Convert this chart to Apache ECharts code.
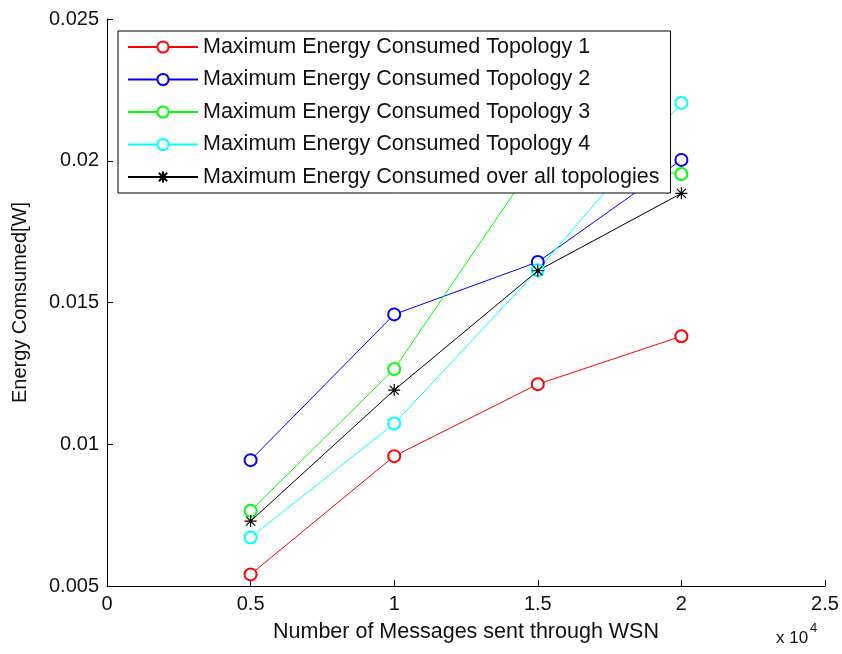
<!DOCTYPE html>
<html>
<head>
<meta charset="utf-8">
<script src="https://cdn.jsdelivr.net/npm/echarts@6/dist/echarts.min.js"></script>
<style>
html,body{margin:0;padding:0;background:#fff;}
#chart{width:842px;height:654px;}
</style>
</head>
<body>
<div id="chart"></div>
<script>
// ---- data ----
var messages = [5000, 10000, 15000, 20000];
var topology1 = [0.00541, 0.00958, 0.01212, 0.01381];
var topology2 = [0.00944, 0.01458, 0.01643, 0.02003];
var topology3 = [0.00765, 0.01265, 0.02010, 0.01953];
var topology4 = [0.00671, 0.01073, 0.01614, 0.02204];
var overall   = [0.00729, 0.01191, 0.01612, 0.01885];
var seriesNames = [
  'Maximum Energy Consumed Topology 1',
  'Maximum Energy Consumed Topology 2',
  'Maximum Energy Consumed Topology 3',
  'Maximum Energy Consumed Topology 4',
  'Maximum Energy Consumed over all topologies'
];
var xTickLabels = ['0', '0.5', '1', '1.5', '2', '2.5'];
var yTickLabels = ['0.005', '0.01', '0.015', '0.02', '0.025'];
var xAxisTitle = 'Number of Messages sent through WSN';
var yAxisTitle = 'Energy Comsumed[W]';

var FONT = 'Liberation Sans, Arial, sans-serif';
var colors = ['#ff0000', '#0000ff', '#00ff00', '#00ffff', '#000000'];
var asterisk = 'path://M0,-6L0,6M-6,0L6,0M-4.5,-4.5L4.5,4.5M-4.5,4.5L4.5,-4.5';

function pairs(ys){ return messages.map(function(x,i){ return [x, ys[i]]; }); }
var allValues = [topology1, topology2, topology3, topology4, overall];

var series = allValues.map(function(vals, i){
  var isStar = (i === 4);
  return {
    name: seriesNames[i],
    type: 'line',
    data: pairs(vals),
    symbol: isStar ? asterisk : 'emptyCircle',
    symbolSize: 12,
    showAllSymbol: true,
    lineStyle: {color: colors[i], width: 1},
    itemStyle: isStar ? {color: colors[i], borderColor: colors[i], borderWidth: 1.2}
                      : {color: colors[i], borderColor: colors[i], borderWidth: 1},
    emphasis: {disabled: true},
    animation: false,
    z: 2,
    zlevel: 0
  };
});

var chart = echarts.init(document.getElementById('chart'), null, {renderer: 'canvas'});
chart.setOption({
  animation: false,
  backgroundColor: '#ffffff',
  grid: {left: 107, top: 19, right: 17, bottom: 68, containLabel: false},
  xAxis: {
    type: 'value', min: 0, max: 25000, interval: 5000,
    axisLine: {show: true, lineStyle: {color: '#000', width: 1}},
    axisTick: {show: true, inside: true, length: 6, lineStyle: {color: '#000'}},
    splitLine: {show: false},
    axisLabel: {color: '#111', fontFamily: FONT, fontSize: 20, margin: 8,
      formatter: function(v){ return xTickLabels[Math.round(v/5000)]; }},
    name: xAxisTitle, nameLocation: 'middle', nameGap: 35,
    nameTextStyle: {color: '#111', fontFamily: FONT, fontSize: 21.5}
  },
  yAxis: {
    type: 'value', min: 0.005, max: 0.025, interval: 0.005,
    axisLine: {show: true, lineStyle: {color: '#000', width: 1}},
    axisTick: {show: true, inside: true, length: 6, lineStyle: {color: '#000'}},
    splitLine: {show: false},
    axisLabel: {color: '#111', fontFamily: FONT, fontSize: 20, margin: 8,
      formatter: function(v){ return yTickLabels[Math.round(v/0.005) - 1]; }},
    name: yAxisTitle, nameLocation: 'middle', nameGap: 77, nameRotate: 90,
    nameTextStyle: {color: '#111', fontFamily: FONT, fontSize: 20}
  },
  legend: {
    orient: 'vertical', left: 118, top: 31,
    z: 20,
    backgroundColor: '#ffffff', borderColor: '#000', borderWidth: 1,
    padding: [5, 11, 5, 9],
    itemWidth: 70, itemHeight: 14, itemGap: 10.5,
    textStyle: {color: '#111', fontFamily: FONT, fontSize: 21.5, lineHeight: 22},
    data: seriesNames,
    selectedMode: false
  },
  graphic: [
    {type: 'text', left: 776, top: 630, style: {text: 'x 10', fill: '#111', font: '17px ' + FONT}},
    {type: 'text', left: 810, top: 622, style: {text: '4', fill: '#111', font: '13px ' + FONT}}
  ],
  series: series
});
</script>
</body>
</html>
